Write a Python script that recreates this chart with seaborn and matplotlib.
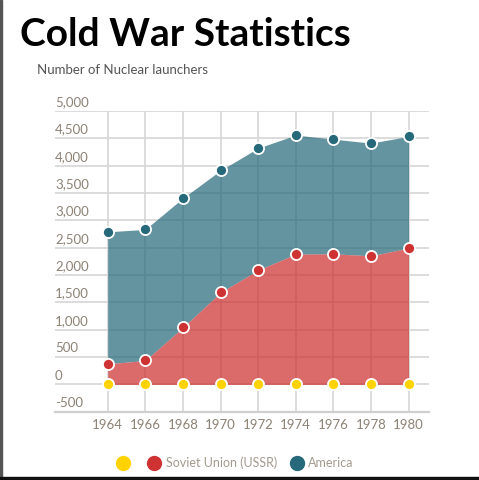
import matplotlib
matplotlib.use("Agg")
import matplotlib.pyplot as plt
import matplotlib.transforms as mtransforms
from matplotlib.lines import Line2D
from matplotlib.patches import Rectangle
import seaborn as sns
import pandas as pd

# Data (stacked area: USSR at bottom, America on top)
years = [1964, 1966, 1968, 1970, 1972, 1974, 1976, 1978, 1980]
blank_series = [0, 0, 0, 0, 0, 0, 0, 0, 0]
ussr = [377, 439, 1042, 1682, 2090, 2382, 2388, 2351, 2492]
america = [2413, 2395, 2364, 2230, 2230, 2176, 2096, 2060, 2042]
y_ticks = [-500, 0, 500, 1000, 1500, 2000, 2500, 3000, 3500, 4000, 4500, 5000]

df = pd.DataFrame({"year": years, "blank": blank_series, "ussr": ussr, "america": america})
df["ussr_top"] = df["blank"] + df["ussr"]
df["america_top"] = df["ussr_top"] + df["america"]

sns.set_theme(style="white")
plt.rcParams["font.family"] = ["Lato", "DejaVu Sans"]

tick_color = "#8c8275"
yellow = "#ffd200"
red_pt = "#cf3232"
red_base = "#cd2d2d"
teal_pt = "#25697a"

fig = plt.figure(figsize=(4.79, 4.80), dpi=100)
ax = fig.add_axes([0.115, 0.142, 0.781, 0.627])

# stacked areas (semi transparent, grid shows through)
ax.fill_between(df["year"], df["ussr_top"], df["america_top"], color=teal_pt, alpha=0.71, zorder=2, lw=0)
ax.fill_between(df["year"], df["blank"], df["ussr_top"], color=red_base, alpha=0.70, zorder=2, lw=0)

# points
for col, c in [("america_top", teal_pt), ("ussr_top", red_pt), ("blank", yellow)]:
    sns.lineplot(data=df, x="year", y=col, ax=ax, color=c, lw=0, marker="o",
                 markersize=8, markeredgecolor="white", markeredgewidth=1.3, zorder=5)

ax.set_xlim(1961.2, 1981.1)
ax.set_ylim(-500, 5000)
ax.set_xticks(years)
ax.set_yticks(y_ticks)
ax.set_yticklabels([f"{v:,}" for v in y_ticks])
ax.set_xlabel("")
ax.set_ylabel("")

# grid
ax.grid(True, color="#d6d6d6", lw=1.2, zorder=1)
ax.set_axisbelow(True)
for s in ["top", "right", "left"]:
    ax.spines[s].set_visible(False)
ax.spines["bottom"].set_color("#cfcfcf")
ax.spines["bottom"].set_linewidth(1.6)

ax.tick_params(axis="x", colors=tick_color, labelsize=9.5, length=0, pad=5)
ax.tick_params(axis="y", colors=tick_color, labelsize=9.5, length=0, pad=0)
offset = mtransforms.ScaledTranslation(0, 2 / 72, fig.dpi_scale_trans)
for lab in ax.get_yticklabels():
    lab.set_horizontalalignment("left")
    lab.set_verticalalignment("bottom")
    lab.set_transform(lab.get_transform() + offset)

# titles
fig.text(0.042, 0.905, "Cold War Statistics", fontsize=28, fontweight="bold", color="black")
fig.text(0.077, 0.845, "Number of Nuclear launchers", fontsize=9.5, color="#555555")

# legend
handles = [
    Line2D([], [], lw=0, marker="o", markersize=10, color=yellow, label=""),
    Line2D([], [], lw=0, marker="o", markersize=10, color=red_pt, label="Soviet Union (USSR)"),
    Line2D([], [], lw=0, marker="o", markersize=10, color=teal_pt, label="America"),
]
leg = fig.legend(handles=handles, loc="center", bbox_to_anchor=(0.49, 0.036), ncol=3, frameon=False,
                 fontsize=9, handletextpad=0.3, columnspacing=1.0, handlelength=1.2)
for t in leg.get_texts():
    t.set_color("#a39a8e")

# page frame strips
fig.patches.append(Rectangle((0, 0), 0.005, 1, transform=fig.transFigure, color="#555555", zorder=0))
fig.patches.append(Rectangle((0, 0), 1, 0.006, transform=fig.transFigure, color="#111111", zorder=0))

fig.savefig("out.png", dpi=100)
